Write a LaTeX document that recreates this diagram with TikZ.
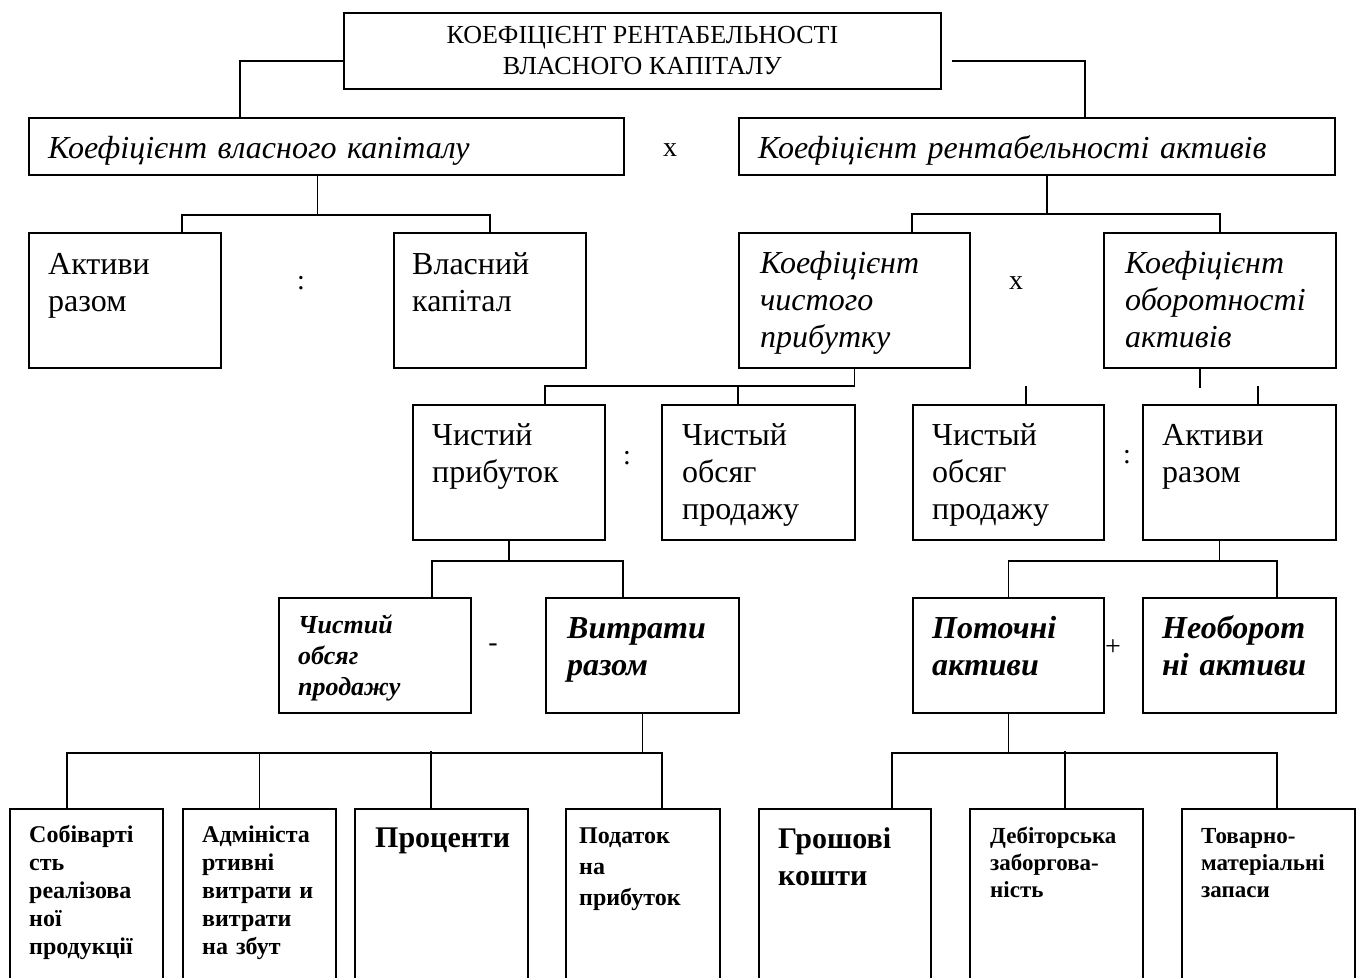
\documentclass[tikz,border=0pt]{standalone}
\usepackage{fontspec}
\setmainfont{Liberation Serif}
\usetikzlibrary{positioning,calc}

\begin{document}
\begin{tikzpicture}[x=1bp, y=1bp,
  box/.style={draw, line width=1.8bp, anchor=north west, inner sep=0pt},
  txt/.style={inner sep=0pt, align=left, text width=560bp},
  reg/.style={font=\fontsize{32bp}{37bp}\selectfont},
  ital/.style={font=\fontsize{32bp}{37bp}\selectfont\itshape},
  bit/.style={font=\fontsize{32bp}{37bp}\selectfont\bfseries\itshape},
  bitsm/.style={font=\fontsize{26bp}{31bp}\selectfont\bfseries\itshape},
  bsm/.style={font=\fontsize{24bp}{28bp}\selectfont\bfseries},
  bxs/.style={font=\fontsize{23bp}{27bp}\selectfont\bfseries},
  bbig/.style={font=\fontsize{30bp}{37bp}\selectfont\bfseries},
  op/.style={font=\fontsize{28bp}{32bp}\selectfont, inner sep=0pt},
  ln/.style={draw, line width=1.8bp}]
\useasboundingbox (0,0) rectangle (1358,-977);
% boxes
\node[box, minimum width=597bp, minimum height=76bp, align=center, font=\fontsize{26bp}{31bp}\selectfont] (top) at (343,-12) {КОЕФІЦІЄНТ РЕНТАБЕЛЬНОСТІ\\ВЛАСНОГО КАПІТАЛУ};
\node[box, minimum width=595bp, minimum height=57bp] (ks) at (28,-117) {};
\node[box, minimum width=596bp, minimum height=57bp] (kra) at (738,-117) {};
\node[box, minimum width=192bp, minimum height=135bp] (ar1) at (28,-232) {};
\node[box, minimum width=192bp, minimum height=135bp] (vk) at (393,-232) {};
\node[box, minimum width=231bp, minimum height=135bp] (kchp) at (738,-232) {};
\node[box, minimum width=232bp, minimum height=135bp] (kob) at (1103,-232) {};
\node[box, minimum width=192bp, minimum height=135bp] (chp) at (412,-404) {};
\node[box, minimum width=193bp, minimum height=135bp] (chop1) at (661,-404) {};
\node[box, minimum width=191bp, minimum height=135bp] (chop2) at (912,-404) {};
\node[box, minimum width=193bp, minimum height=135bp] (ar2) at (1142,-404) {};
\node[box, minimum width=192bp, minimum height=115bp] (chop3) at (278,-597) {};
\node[box, minimum width=193bp, minimum height=115bp] (vr) at (545,-597) {};
\node[box, minimum width=191bp, minimum height=115bp] (pa) at (912,-597) {};
\node[box, minimum width=193bp, minimum height=115bp] (na) at (1142,-597) {};
\node[box, minimum width=153bp, minimum height=200bp] (b1) at (9,-808) {};
\node[box, minimum width=153bp, minimum height=200bp] (b2) at (182,-808) {};
\node[box, minimum width=173bp, minimum height=200bp] (b3) at (354,-808) {};
\node[box, minimum width=154bp, minimum height=200bp] (b4) at (565,-808) {};
\node[box, minimum width=172bp, minimum height=200bp] (gk) at (758,-808) {};
\node[box, minimum width=173bp, minimum height=200bp] (dz) at (969,-808) {};
\node[box, minimum width=173bp, minimum height=200bp] (tm) at (1181,-808) {};
% texts
\node[txt, ital, below right=41bp and 20bp of ks.north west, anchor=base west] (ks-t) {Коефіцієнт власного капіталу};
\node[txt, ital, below right=41bp and 20bp of kra.north west, anchor=base west] (kra-t) {Коефіцієнт рентабельності активів};
\node[txt, reg, below right=42bp and 20bp of ar1.north west, anchor=base west] (ar1-t) {Активи\\разом};
\node[txt, reg, below right=42bp and 19bp of vk.north west, anchor=base west] (vk-t) {Власний\\капітал};
\node[txt, ital, below right=41bp and 22bp of kchp.north west, anchor=base west] (kchp-t) {Коефіцієнт\\чистого\\прибутку};
\node[txt, ital, below right=41bp and 22bp of kob.north west, anchor=base west] (kob-t) {Коефіцієнт\\оборотності\\активів};
\node[txt, reg, below right=41bp and 20bp of chp.north west, anchor=base west] (chp-t) {Чистий\\прибуток};
\node[txt, reg, below right=41bp and 21bp of chop1.north west, anchor=base west] (chop1-t) {Чистый\\обсяг\\продажу};
\node[txt, reg, below right=41bp and 20bp of chop2.north west, anchor=base west] (chop2-t) {Чистый\\обсяг\\продажу};
\node[txt, reg, below right=41bp and 20bp of ar2.north west, anchor=base west] (ar2-t) {Активи\\разом};
\node[txt, bitsm, below right=36bp and 20bp of chop3.north west, anchor=base west] (chop3-t) {Чистий\\обсяг\\продажу};
\node[txt, bit, below right=41bp and 22bp of vr.north west, anchor=base west] (vr-t) {Витрати\\разом};
\node[txt, bit, below right=41bp and 20bp of pa.north west, anchor=base west] (pa-t) {Поточні\\активи};
\node[txt, bit, below right=41bp and 20bp of na.north west, anchor=base west] (na-t) {Необорот\\ні активи};
\node[txt, bsm, below right=34bp and 20bp of b1.north west, anchor=base west] (b1-t) {Собіварті\\сть\\реалізова\\ної\\продукції};
\node[txt, bsm, below right=34bp and 20bp of b2.north west, anchor=base west] (b2-t) {Адмініста\\ртивні\\витрати и\\витрати\\на збут};
\node[txt, bbig, below right=39bp and 21bp of b3.north west, anchor=base west] (b3-t) {Проценти};
\node[txt, bsm, below right=35bp and 14bp of b4.north west, anchor=base west, font=\fontsize{24bp}{31bp}\selectfont\bfseries] (b4-t) {Податок\\на\\прибуток};
\node[txt, bbig, below right=40bp and 20bp of gk.north west, anchor=base west] (gk-t) {Грошові\\кошти};
\node[txt, bxs, below right=35bp and 21bp of dz.north west, anchor=base west] (dz-t) {Дебіторська\\заборгова-\\ність};
\node[txt, bxs, below right=35bp and 20bp of tm.north west, anchor=base west] (tm-t) {Товарно-\\матеріальні\\запаси};
% operators
\node[op] (mul1) at (670,-150) {x};
\node[op] (div1) at (301,-283) {:};
\node[op] (mul2) at (1016,-283) {x};
\node[op] (div2) at (627,-458) {:};
\node[op] (div3) at (1127,-457) {:};
\node[op] (sub1) at (493,-648) {-};
\node[op] (add1) at (1113,-648) {+};
% connectors
\draw[ln] ($(top.west)+(0,-10)$) -| ($(ks.north west)+(212,0)$);
\draw[ln] ($(top.east)+(10,-10)$) -| ($(kra.north west)+(347,0)$);
\coordinate (j1) at ($(ks.south)+(-9,-39)$);
\draw[ln] ($(ks.south)+(-9,0)$) -- (j1);
\draw[ln] ($(ar1.north west)+(154,0)$) |- (j1) -| (vk.north);
\coordinate (j2) at ($(kra.south)+(10,-38)$);
\draw[ln] ($(kra.south)+(10,0)$) -- (j2);
\draw[ln] ($(kchp.north west)+(174,0)$) |- (j2) -| (kob.north);
\coordinate (j3) at ($(chp.north west)+(133,18)$);
\draw[ln] (kchp.south) |- (j3) -- (j3 |- chp.north);
\draw[ln] ($(chop1.north west)+(77,0)$) -- ++(0,18);
\draw[ln] ($(kob.south)+(-20,0)$) -- ++(0,-19);
\draw[ln] ($(chop2.north west)+(114,0)$) -- ++(0,18);
\draw[ln] ($(ar2.north west)+(116,0)$) -- ++(0,18);
\coordinate (j4) at ($(chp.south)+(0,-20)$);
\draw[ln] (chp.south) -- (j4);
\draw[ln] ($(chop3.north west)+(154,0)$) |- (j4) -| ($(vr.north west)+(78,0)$);
\coordinate (j5) at ($(ar2.south)+(-20,-20)$);
\draw[ln] ($(ar2.south)+(-20,0)$) -- (j5);
\draw[ln] (pa.north) |- (j5) -| ($(na.north west)+(135,0)$);
\coordinate (j6) at ($(vr.south)+(0,-39)$);
\draw[ln] (vr.south) -- (j6);
\draw[ln] ($(b1.north west)+(58,0)$) |- (j6) -| ($(b4.north west)+(97,0)$);
\draw[ln] (b2.north) -- (b2.north |- j6);
\draw[ln] ($(b3.north west)+(77,0)$) -- ++(0,57);
\coordinate (j7) at ($(pa.south)+(0,-39)$);
\draw[ln] (pa.south) -- (j7);
\draw[ln] ($(gk.north west)+(134,0)$) |- (j7) -| ($(tm.north west)+(96,0)$);
\draw[ln] ($(dz.north west)+(96,0)$) -- ++(0,57);
\end{tikzpicture}
\end{document}
